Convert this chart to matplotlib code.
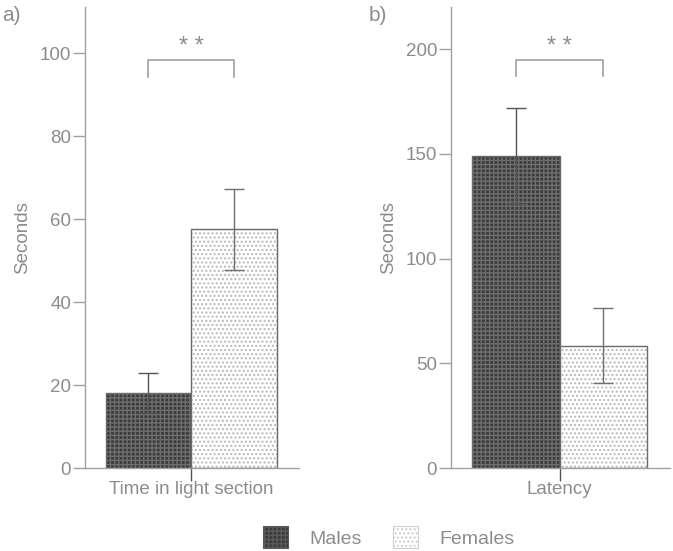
import matplotlib.pyplot as plt
from matplotlib.patches import Patch

plt.rcParams['font.family'] = ['Liberation Sans', 'DejaVu Sans']
plt.rcParams['hatch.linewidth'] = 1.0

# values
groups = ['Males', 'Females']
light_mean = [18.0, 57.5]
light_err = [4.8, 9.8]
latency_mean = [149.0, 58.5]
latency_err = [23.0, 18.0]

grey = '#8c8c8c'
spine = '#a0a0a0'

fig = plt.figure(figsize=(6.73, 5.51), dpi=100)
ax1 = fig.add_axes([0.1263, 0.1506, 0.318, 0.836])
ax2 = fig.add_axes([0.670, 0.1506, 0.3255, 0.836])

xpos = [-0.5, 0.5]
faces = ['#3c3c3c', 'white']
hatches = ['++++', '....']
hcolors = ['#6e6e6e', '#b8b8b8']


def panel(ax, means, errs, ylim, yticks, xlabel, bracket):
    for x, m, f, h, hc in zip(xpos, means, faces, hatches, hcolors):
        ax.bar(x, m, width=1.0, color=f, hatch=h, edgecolor=hc, linewidth=0)
        ax.bar(x, m, width=1.0, fill=False, edgecolor='#6a6a6a', linewidth=1.0)
    for x, m, e, c in zip(xpos, means, errs, ['#555555', '#707070']):
        ax.errorbar(x, m, yerr=e, fmt='none', ecolor=c, elinewidth=1.0,
                    capsize=7, capthick=1.0)
    ax.set_ylim(*ylim)
    ax.set_xlim(-1.24, 1.26)
    ax.set_yticks(yticks)
    ax.set_xticks([0])
    ax.set_xticklabels([xlabel])
    for s in ['top', 'right']:
        ax.spines[s].set_visible(False)
    for s in ['left', 'bottom']:
        ax.spines[s].set_color(spine)
        ax.spines[s].set_linewidth(1.0)
    ax.tick_params(axis='both', colors=spine, labelcolor=grey, length=9,
                   width=1.0, labelsize=13.5, direction='out', pad=1)
    ax.tick_params(axis='x', colors='#555555', labelcolor=grey, pad=0)
    ax.set_ylabel('Seconds', color=grey, fontsize=13.5, labelpad=6)
    # significance bracket
    top, leg = bracket
    ax.plot([xpos[0], xpos[0], xpos[1], xpos[1]], [leg, top, top, leg],
            color=spine, linewidth=1.2)
    ax.text(0, top + (ylim[1] - ylim[0]) * 0.004, '* *', ha='center',
            va='bottom', color=grey, fontsize=17)
    return ax


panel(ax1, light_mean, light_err, (0, 111), [0, 20, 40, 60, 80, 100],
      'Time in light section', (98.3, 94.2))
panel(ax2, latency_mean, latency_err, (0, 220), [0, 50, 100, 150, 200],
      'Latency', (195, 187))

fig.text(0.003, 0.972, 'a)', fontsize=15, color=grey, va='center')
fig.text(0.548, 0.972, 'b)', fontsize=15, color=grey, va='center')

handles = [Patch(facecolor=f, hatch=h, edgecolor=hc, linewidth=0.8)
           for f, h, hc in zip(faces, hatches, ['#5a5a5a', '#cfcfcf'])]
fig.legend(handles, groups, loc='center', bbox_to_anchor=(0.578, 0.025),
           ncol=2, frameon=False, fontsize=14, labelcolor=grey,
           handlelength=1.3, handleheight=1.4, columnspacing=1.6,
           handletextpad=1.1)

fig.savefig('out.png', dpi=100)
